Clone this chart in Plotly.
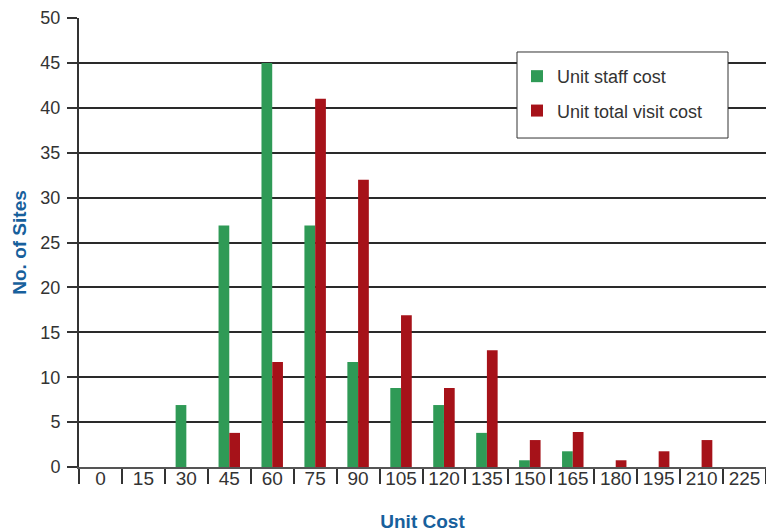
import plotly.graph_objects as go

categories = ["0", "15", "30", "45", "60", "75", "90", "105", "120", "135",
              "150", "165", "180", "195", "210", "225"]
staff_cost = [0, 0, 6.9, 26.9, 45, 26.9, 11.7, 8.8, 6.9, 3.8, 0.75, 1.75, 0, 0, 0, 0]
total_visit_cost = [0, 0, 0, 3.8, 11.7, 41, 32, 16.9, 8.8, 13, 3, 3.9, 0.75, 1.75, 3, 0]

GREEN = "#2f9a56"
RED = "#a61219"
TXT = "#333333"
BLUE = "#17609c"
FONT = "Liberation Sans, Arial, sans-serif"

# page has an 8px body margin
W, H = 766, 524
ML, MT, MB, MR = 71, 10, 65, 8
PW = W - ML - MR

def px(xf):
    return (xf - 8 - ML) / PW

fig = go.Figure()
fig.add_trace(go.Bar(x=categories, y=staff_cost, name="Unit staff cost",
                     marker=dict(color=GREEN, line=dict(width=0)), legendgroup="a"))
fig.add_trace(go.Bar(x=categories, y=total_visit_cost, name="Unit total visit cost",
                     marker=dict(color=RED, line=dict(width=0)), legendgroup="b"))

# legend frame
fig.add_shape(type="rect", xref="paper", yref="paper",
              x0=px(517), x1=px(728), y0=0.7327, y1=0.9243,
              fillcolor="white", line=dict(color="#333333", width=1), layer="above")

fig.update_layout(
    width=W, height=H,
    margin=dict(l=ML, r=MR, t=MT, b=MB, autoexpand=False),
    paper_bgcolor="white", plot_bgcolor="white",
    barmode="group", bargap=0.5, bargroupgap=0,
    font=dict(family=FONT, color=TXT),
    showlegend=True,
    legend=dict(
        x=px(517), y=0.911,
        xanchor="left", yanchor="top",
        bgcolor="rgba(0,0,0,0)", borderwidth=0,
        font=dict(size=18, color=TXT, family=FONT),
        traceorder="grouped", tracegroupgap=8,
    ),
    xaxis=dict(
        type="category", range=[-0.5, 15.5], automargin=False,
        tickson="boundaries", ticks="outside", ticklen=15, tickwidth=2,
        tickcolor="#333333",
        tickfont=dict(size=19, color=TXT, family=FONT),
        ticklabelstandoff=-7,
        showgrid=False, showline=True, linecolor="#555555", linewidth=1.5,
        zeroline=False,
        title=dict(text="<b>Unit Cost</b>", font=dict(size=19, color=BLUE, family=FONT),
                   standoff=27),
    ),
    yaxis=dict(
        range=[0, 50], dtick=5, tick0=0, automargin=False,
        ticks="outside", ticklen=10, tickwidth=2, tickcolor="#333333",
        tickfont=dict(size=18, color=TXT, family=FONT),
        ticklabelstandoff=3,
        showgrid=True, gridcolor="#2a2a2a", gridwidth=1.6,
        showline=True, linecolor="#333333", linewidth=2,
        zeroline=False,
        title=dict(text="<b>No. of Sites</b>", font=dict(size=19, color=BLUE, family=FONT),
                   standoff=9),
    ),
)

fig.write_html("out.html")
